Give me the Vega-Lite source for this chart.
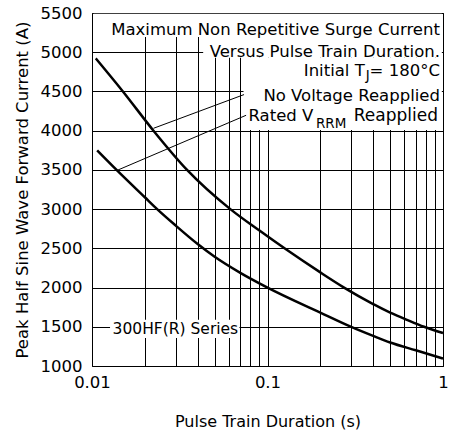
{
  "$schema": "https://vega.github.io/schema/vega-lite/v6.json",
  "width": 351,
  "height": 353,
  "autosize": "none",
  "padding": {"left": 92, "top": 13, "right": 8, "bottom": 64},
  "background": "white",
  "config": {
    "view": {"stroke": "black", "strokeWidth": 1},
    "font": "DejaVu Sans",
    "text": {"font": "DejaVu Sans", "color": "black"}
  },
  "encoding": {
    "x": {
      "field": "x", "type": "quantitative",
      "scale": {"type": "log", "domain": [0.01, 1], "nice": false},
      "axis": {
        "title": "Pulse Train Duration (s)",
        "values": [0.01, 0.02, 0.03, 0.04, 0.05, 0.06, 0.07, 0.08, 0.09, 0.1, 0.2, 0.3, 0.4, 0.5, 0.6, 0.7, 0.8, 0.9, 1],
        "labelExpr": "datum.value == 0.01 ? '0.01' : datum.value == 0.1 ? '0.1' : datum.value == 1 ? '1' : ''",
        "grid": true, "gridColor": "black", "gridOpacity": 1, "gridWidth": 1,
        "ticks": false, "tickSize": 0, "domain": false,
        "labelOverlap": false, "labelFlush": false,
        "labelFont": "DejaVu Sans", "labelFontSize": 16.5, "labelColor": "black", "labelPadding": 8,
        "titleFont": "DejaVu Sans", "titleFontSize": 16, "titleFontWeight": "normal", "titleColor": "black", "titlePadding": 23
      }
    },
    "y": {
      "field": "y", "type": "quantitative",
      "scale": {"domain": [1000, 5500], "nice": false, "zero": false},
      "axis": {
        "title": "Peak Half Sine Wave Forward Current (A)",
        "values": [1000, 1500, 2000, 2500, 3000, 3500, 4000, 4500, 5000, 5500],
        "tickCount": 10,
        "labelExpr": "'' + datum.value",
        "grid": true, "gridColor": "black", "gridOpacity": 1, "gridWidth": 1,
        "ticks": false, "tickSize": 0, "domain": false,
        "labelOverlap": false, "labelFlush": false,
        "labelFont": "DejaVu Sans", "labelFontSize": 16.5, "labelColor": "black", "labelPadding": 10,
        "titleFont": "DejaVu Sans", "titleFontSize": 16.5, "titleFontWeight": "normal", "titleColor": "black", "titlePadding": 10
      }
    }
  },
  "layer": [
    {
      "data": {"values": [
        {"series": "No Voltage Reapplied", "x": 0.0105, "y": 4922},
        {"series": "No Voltage Reapplied", "x": 0.015, "y": 4500},
        {"series": "No Voltage Reapplied", "x": 0.0224, "y": 4000},
        {"series": "No Voltage Reapplied", "x": 0.0348, "y": 3500},
        {"series": "No Voltage Reapplied", "x": 0.0614, "y": 3000},
        {"series": "No Voltage Reapplied", "x": 0.09, "y": 2726},
        {"series": "No Voltage Reapplied", "x": 0.125, "y": 2500},
        {"series": "No Voltage Reapplied", "x": 0.2, "y": 2193},
        {"series": "No Voltage Reapplied", "x": 0.273, "y": 2000},
        {"series": "No Voltage Reapplied", "x": 0.4, "y": 1790},
        {"series": "No Voltage Reapplied", "x": 0.5, "y": 1680},
        {"series": "No Voltage Reapplied", "x": 0.6, "y": 1605},
        {"series": "No Voltage Reapplied", "x": 0.78, "y": 1500},
        {"series": "No Voltage Reapplied", "x": 1, "y": 1420},
        {"series": "Rated VRRM Reapplied", "x": 0.0107, "y": 3749},
        {"series": "Rated VRRM Reapplied", "x": 0.0138, "y": 3500},
        {"series": "Rated VRRM Reapplied", "x": 0.02, "y": 3151},
        {"series": "Rated VRRM Reapplied", "x": 0.0235, "y": 3000},
        {"series": "Rated VRRM Reapplied", "x": 0.03, "y": 2790},
        {"series": "Rated VRRM Reapplied", "x": 0.04, "y": 2555},
        {"series": "Rated VRRM Reapplied", "x": 0.05, "y": 2393},
        {"series": "Rated VRRM Reapplied", "x": 0.07, "y": 2188},
        {"series": "Rated VRRM Reapplied", "x": 0.1, "y": 2000},
        {"series": "Rated VRRM Reapplied", "x": 0.2, "y": 1681},
        {"series": "Rated VRRM Reapplied", "x": 0.3, "y": 1499},
        {"series": "Rated VRRM Reapplied", "x": 0.4, "y": 1384},
        {"series": "Rated VRRM Reapplied", "x": 0.5, "y": 1300},
        {"series": "Rated VRRM Reapplied", "x": 0.7, "y": 1200},
        {"series": "Rated VRRM Reapplied", "x": 1, "y": 1095}
      ]},
      "mark": {"type": "line", "color": "black", "strokeWidth": 2.5, "interpolate": "monotone"},
      "encoding": {
        "detail": {"field": "series"}
      }
    },
    {
      "data": {"values": [
        {"x": 0.0102, "x2": 0.985, "y": 5195, "y2": 5490},
        {"x": 0.043, "x2": 0.985, "y": 4930, "y2": 5195},
        {"x": 0.073, "x2": 0.985, "y": 4010, "y2": 4930},
        {"x": 0.01267, "x2": 0.0692, "y": 1358, "y2": 1588}
      ]},
      "mark": {"type": "rect", "fill": "white", "stroke": null},
      "encoding": {
        "x2": {"field": "x2"},
        "y2": {"field": "y2"}
      }
    },
    {
      "data": {"values": [
        {"x": 0.0735, "y": 4460, "x2": 0.0224, "y2": 4030},
        {"x": 0.0755, "y": 4196, "x2": 0.0139, "y2": 3494}
      ]},
      "mark": {"type": "rule", "color": "black", "strokeWidth": 1},
      "encoding": {
        "x2": {"field": "x2"},
        "y2": {"field": "y2"}
      }
    },
    {
      "data": {"values": [
        {"label": "Maximum Non Repetitive Surge Current", "x": 0.961, "y": 5219},
        {"label": "Versus Pulse Train Duration.", "x": 0.961, "y": 4941},
        {"label": "Initial T", "x": 0.3583, "y": 4695},
        {"label": "= 180°C", "x": 0.961, "y": 4695},
        {"label": "No Voltage Reapplied", "x": 0.961, "y": 4381}
      ]},
      "mark": {"type": "text", "align": "right", "baseline": "alphabetic", "fontSize": 16.5, "color": "black"},
      "encoding": {
        "text": {"field": "label"}
      }
    },
    {
      "data": {"values": [
        {"label": "Reapplied", "x": 0.9363, "y": 4126}
      ]},
      "mark": {"type": "text", "align": "right", "baseline": "alphabetic", "fontSize": 17, "color": "black"},
      "encoding": {
        "text": {"field": "label"}
      }
    },
    {
      "data": {"values": [
        {"label": "Rated V", "x": 0.0779, "y": 4126}
      ]},
      "mark": {"type": "text", "align": "left", "baseline": "alphabetic", "fontSize": 16.5, "color": "black"},
      "encoding": {
        "text": {"field": "label"}
      }
    },
    {
      "data": {"values": [
        {"label": "J", "x": 0.3727, "y": 4643},
        {"label": "RRM", "x": 0.2306, "y": 4030}
      ]},
      "mark": {"type": "text", "align": "center", "baseline": "alphabetic", "fontSize": 13.5, "color": "black"},
      "encoding": {
        "text": {"field": "label"}
      }
    },
    {
      "data": {"values": [
        {"label": "300HF(R) Series", "x": 0.0131, "y": 1405}
      ]},
      "mark": {"type": "text", "align": "left", "baseline": "alphabetic", "fontSize": 15.5, "color": "black"},
      "encoding": {
        "text": {"field": "label"}
      }
    }
  ]
}
